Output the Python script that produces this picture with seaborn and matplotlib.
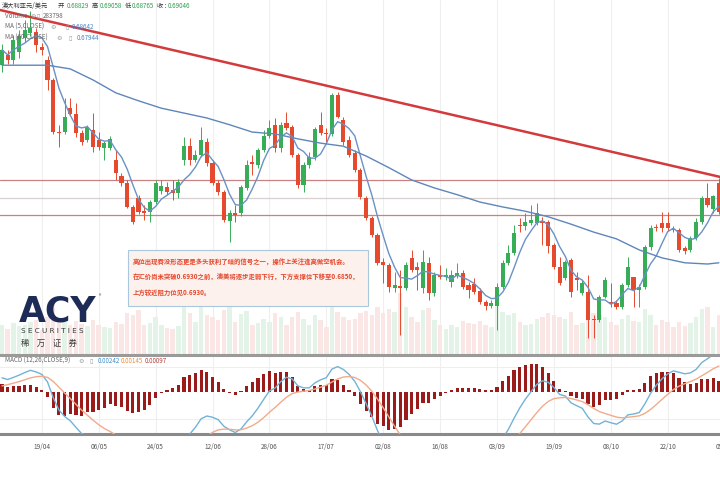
import numpy as np
import pandas as pd
import seaborn as sns
import matplotlib
matplotlib.use("Agg")
from matplotlib import pyplot as plt
from matplotlib import transforms
from matplotlib.patches import Rectangle

# AUD/USD daily candles
opens = [
    0.7117, 0.7134, 0.7126, 0.7139, 0.7161, 0.7170, 0.7171, 0.7147, 0.7126, 0.7093,
    0.7008, 0.7008, 0.7047, 0.7037, 0.7006, 0.6995, 0.7011, 0.6995, 0.6982, 0.6982,
    0.6963, 0.6936, 0.6925, 0.6886, 0.6901, 0.6879, 0.6878, 0.6894, 0.6912, 0.6919,
    0.6914, 0.6909, 0.6963, 0.6985, 0.6963, 0.6971, 0.6992, 0.6958, 0.6925, 0.6910,
    0.6863, 0.6876, 0.6876, 0.6917, 0.6959, 0.6954, 0.6979, 0.7002, 0.7020, 0.6982,
    0.7023, 0.7016, 0.6971, 0.6922, 0.6954, 0.6967, 0.7020, 0.7006, 0.7005, 0.7068,
    0.7028, 0.6995, 0.6974, 0.6946, 0.6901, 0.6868, 0.6840, 0.6796, 0.6791, 0.6754,
    0.6757, 0.6754, 0.6803, 0.6788, 0.6754, 0.6795, 0.6746, 0.6775, 0.6772, 0.6764,
    0.6773, 0.6778, 0.6759, 0.6760, 0.6749, 0.6731, 0.6725, 0.6725, 0.6755, 0.6795,
    0.6811, 0.6857, 0.6855, 0.6860, 0.6860, 0.6863, 0.6861, 0.6824, 0.6788, 0.6770,
    0.6800, 0.6770, 0.6746, 0.6747, 0.6703, 0.6702, 0.6739, 0.6731, 0.6729, 0.6723,
    0.6759, 0.6772, 0.6751, 0.6755, 0.6821, 0.6853, 0.6860, 0.6860, 0.6850, 0.6848,
    0.6819, 0.6816, 0.6835, 0.6861, 0.6901, 0.68829, 0.6925,
]
highs = [
    0.7152, 0.7142, 0.7166, 0.7174, 0.7191, 0.7205, 0.7178, 0.7153, 0.7132, 0.7096,
    0.7020, 0.7064, 0.7064, 0.7055, 0.7011, 0.7020, 0.7039, 0.7008, 0.6993, 0.7002,
    0.6979, 0.6941, 0.6930, 0.6889, 0.6906, 0.6889, 0.6897, 0.6930, 0.6930, 0.6927,
    0.6930, 0.6931, 0.7000, 0.6998, 0.6979, 0.7016, 0.6998, 0.6963, 0.6930, 0.6914,
    0.6881, 0.6889, 0.6922, 0.6963, 0.6971, 0.6982, 0.7011, 0.7028, 0.7031, 0.7024,
    0.7041, 0.7020, 0.6974, 0.6959, 0.6976, 0.7016, 0.7041, 0.7015, 0.7072, 0.7073,
    0.7033, 0.7002, 0.6979, 0.6949, 0.6904, 0.6871, 0.6844, 0.6803, 0.6795, 0.6780,
    0.6783, 0.6796, 0.6816, 0.6796, 0.6816, 0.6804, 0.6780, 0.6791, 0.6786, 0.6783,
    0.6795, 0.6783, 0.6764, 0.6770, 0.6754, 0.6734, 0.6734, 0.6762, 0.6800, 0.6824,
    0.6857, 0.6868, 0.6876, 0.6889, 0.6892, 0.6870, 0.6865, 0.6827, 0.6804, 0.6800,
    0.6803, 0.6780, 0.6767, 0.6775, 0.6710, 0.6742, 0.6772, 0.6762, 0.6734, 0.6762,
    0.6804, 0.6772, 0.6760, 0.6824, 0.6857, 0.6858, 0.6878, 0.6878, 0.6855, 0.6852,
    0.6822, 0.6839, 0.6868, 0.6904, 0.6925, 0.69058, 0.6933,
]
lows = [
    0.7106, 0.7119, 0.7119, 0.7129, 0.7155, 0.7165, 0.7139, 0.7134, 0.7077, 0.7005,
    0.6984, 0.7005, 0.7036, 0.7000, 0.6987, 0.6992, 0.6976, 0.6979, 0.6963, 0.6979,
    0.6930, 0.6920, 0.6884, 0.6858, 0.6875, 0.6865, 0.6861, 0.6891, 0.6907, 0.6906,
    0.6897, 0.6901, 0.6954, 0.6954, 0.6959, 0.6967, 0.6953, 0.6922, 0.6906, 0.6861,
    0.6829, 0.6861, 0.6871, 0.6914, 0.6938, 0.6949, 0.6976, 0.6998, 0.6976, 0.6976,
    0.7011, 0.6967, 0.6917, 0.6910, 0.6949, 0.6963, 0.7003, 0.6990, 0.7002, 0.7031,
    0.6987, 0.6967, 0.6943, 0.6899, 0.6865, 0.6837, 0.6791, 0.6762, 0.6747, 0.6747,
    0.6677, 0.6751, 0.6780, 0.6751, 0.6746, 0.6734, 0.6741, 0.6768, 0.6767, 0.6755,
    0.6770, 0.6752, 0.6738, 0.6744, 0.6728, 0.6718, 0.6721, 0.6685, 0.6752, 0.6791,
    0.6808, 0.6845, 0.6848, 0.6857, 0.6857, 0.6824, 0.6811, 0.6785, 0.6759, 0.6767,
    0.6739, 0.6751, 0.6742, 0.6672, 0.6672, 0.6698, 0.6738, 0.6723, 0.6720, 0.6720,
    0.6755, 0.6723, 0.6723, 0.6752, 0.6816, 0.6847, 0.6845, 0.6847, 0.6845, 0.6812,
    0.6809, 0.6812, 0.6832, 0.6858, 0.6886, 0.68765, 0.6875,
]
closes = [
    0.7142, 0.7126, 0.7158, 0.7165, 0.7174, 0.7178, 0.7150, 0.7142, 0.7093, 0.7008,
    0.7006, 0.7033, 0.7037, 0.7006, 0.6992, 0.7016, 0.6984, 0.6984, 0.6990, 0.6997,
    0.6941, 0.6925, 0.6886, 0.6861, 0.6878, 0.6876, 0.6894, 0.6925, 0.6920, 0.6910,
    0.6909, 0.6927, 0.6985, 0.6963, 0.6971, 0.6995, 0.6958, 0.6925, 0.6910, 0.6865,
    0.6876, 0.6873, 0.6919, 0.6954, 0.6956, 0.6979, 0.7002, 0.7015, 0.6982, 0.7020,
    0.7015, 0.6971, 0.6922, 0.6954, 0.6967, 0.7013, 0.7006, 0.7005, 0.7068, 0.7033,
    0.6992, 0.6971, 0.6946, 0.6902, 0.6868, 0.6840, 0.6795, 0.6791, 0.6755, 0.6759,
    0.6754, 0.6791, 0.6783, 0.6783, 0.6796, 0.6746, 0.6775, 0.6772, 0.6775, 0.6775,
    0.6778, 0.6755, 0.6751, 0.6747, 0.6731, 0.6725, 0.6729, 0.6755, 0.6795, 0.6811,
    0.6844, 0.6855, 0.6861, 0.6865, 0.6876, 0.6860, 0.6822, 0.6788, 0.6762, 0.6796,
    0.6747, 0.6767, 0.6762, 0.6702, 0.6702, 0.6739, 0.6767, 0.6728, 0.6723, 0.6759,
    0.6788, 0.6751, 0.6755, 0.6821, 0.6852, 0.6852, 0.6852, 0.6852, 0.6848, 0.6816,
    0.6814, 0.6835, 0.6861, 0.6901, 0.6889, 0.69046, 0.6878,
]
volumes = [
    300000, 262000, 318000, 291000, 305000, 334000, 352000, 248000,
    381000, 522000, 364000, 331000, 298000, 342000, 309000, 287000, 352000, 301000, 276000, 268000,
    335000, 312000, 418000, 404000, 452000, 301000, 322000, 383000, 297000, 271000, 258000, 293000,
    561000, 423000, 332000, 478000, 401000, 383000, 349000, 451000, 518000, 331000, 412000, 438000, 302000, 318000,
    362000, 333000, 421000, 379000, 302000, 384000, 432000, 361000, 298000, 402000, 351000, 279000,
    523000, 428000, 381000, 352000, 364000, 418000, 442000, 397000, 482000, 421000, 463000, 428000,
    618000, 481000, 379000, 332000, 448000, 472000, 351000, 302000, 259000, 297000, 281000, 338000,
    322000, 311000, 342000, 298000, 283000, 502000, 431000, 398000, 421000, 333000, 302000, 309000,
    362000, 381000, 419000, 402000, 378000, 361000, 433000, 298000, 322000, 558000, 421000, 398000,
    379000, 331000, 302000, 358000, 401000, 342000, 329000, 462000, 398000, 301000, 352000, 328000,
    281000, 332000, 291000, 318000, 383000, 458000, 479000, 283798, 402000,
]

# slow moving average as drawn on the chart (sampled every 4 bars)
ma60_bars = [0, 4, 8, 12, 16, 20, 24, 28, 32, 36, 40, 44, 48, 52, 56, 60,
             64, 68, 72, 76, 80, 84, 88, 92, 96, 100, 104, 108, 112, 116, 120, 124, 126]
ma60_values = [0.7117, 0.7117, 0.7117, 0.7111, 0.7093, 0.7072, 0.7059, 0.7047, 0.7039,
               0.7031, 0.7020, 0.7008, 0.7005, 0.6997, 0.6990, 0.6985, 0.6969, 0.6950,
               0.6930, 0.6917, 0.6906, 0.6894, 0.6886, 0.6879, 0.6870, 0.6858, 0.6845,
               0.6834, 0.6816, 0.6803, 0.6795, 0.6793, 0.6795]

# EMA state at the first visible bar (fast, slow, signal)
macd_seed = [0.7130, 0.7120, 0.0003]

tick_bars = [7, 17, 27, 37, 47, 57, 67, 77, 87, 97, 107, 117, 127]
tick_labels = ["19/04", "06/05", "24/05", "12/06", "28/06", "17/07", "02/08",
               "16/08", "03/09", "19/09", "08/10", "22/10", "05/11"]

trend_bars = [-0.35, 126.2]
trend_prices = [0.7207, 0.6935]
level_prices = [0.6930, 0.6901, 0.6873]
level_colors = ["#c98282", "#d9d0d0", "#c98282"]

note_lines = [
    "高位出现吞没形态更是多头获利了结的信号之一，操作上关注逢高做空机会。",
    "在汇价尚未突破0.6930之前，澳美将逐步走弱下行，下方支撑位下移至0.6850，",
    "上方较近阻力位见0.6930。",
]

W, H = 720, 479
RED, GREEN = "#e64a2e", "#37ad58"
MA_BLUE = "#6a92c4"


def fx(x):
    return x / W


def fy(y):
    return 1 - y / H


def ema(seed, values, span):
    alpha = 2.0 / (span + 1)
    out, prev = [], seed
    for v in values:
        prev = prev + alpha * (v - prev)
        out.append(prev)
    return np.array(out)


sns.set_theme(style="white")
plt.rcParams["font.family"] = ["Noto Sans CJK SC", "DejaVu Sans"]
plt.rcParams["axes.unicode_minus"] = False

df = pd.DataFrame({"open": opens, "high": highs, "low": lows, "close": closes, "volume": volumes})
df["bar"] = np.arange(len(df))
df["ma5"] = df["close"].rolling(5, min_periods=1).mean()
df["dif"] = ema(macd_seed[0], df["close"], 12) - ema(macd_seed[1], df["close"], 26)
df["dea"] = ema(macd_seed[2], df["dif"], 9)
df["hist"] = df["dif"] - df["dea"]
up = (df["close"] >= df["open"]).to_numpy()

fig = plt.figure(figsize=(7.2, 4.79), dpi=100)
ax = fig.add_axes([0, fy(355), 1, 355 / H])
axv = ax.twinx()
ax.set_zorder(axv.get_zorder() + 1)
ax.patch.set_visible(False)
axm = fig.add_axes([0, fy(434), 1, (434 - 356) / H])

xlim = (trend_bars[0], trend_bars[1])
for a in (ax, axv, axm):
    a.set_xlim(*xlim)

# volume overlay + faint verticals
axv.bar(df["bar"], df["volume"], width=0.78, color=np.where(up, "#e3f3e7", "#fbe6e6"), linewidth=0)
for b in tick_bars:
    axv.axvline(b, color="#efefef", lw=0.8, zorder=0)
    axm.axvline(b, color="#efefef", lw=0.8, zorder=0)
axv.set_ylim(0, 3.55e6)
axv.set_axis_off()

# candles
colors = np.where(up, GREEN, RED)
ax.vlines(df["bar"], df["low"], df["high"], colors=colors, lw=0.7, zorder=3)
body_low = np.minimum(df["open"], df["close"])
body_h = np.maximum((df["close"] - df["open"]).abs(), 0.00008)
ax.bar(df["bar"], body_h, bottom=body_low, width=0.72, color=colors, linewidth=0, zorder=4)

for p, c in zip(level_prices, level_colors):
    ax.axhline(p, color=c, lw=0.9, zorder=2)

sns.lineplot(x=df["bar"], y=df["ma5"], ax=ax, color=MA_BLUE, lw=1.0, zorder=5)
sns.lineplot(x=ma60_bars, y=ma60_values, ax=ax, color="#5f86ba", lw=1.0, zorder=5)
ax.plot(trend_bars, trend_prices, color="#d23a3c", lw=1.8, zorder=6)

ax.set_ylim(0.66447, 0.72233)
ax.set_xticks([])
ax.set_yticks([])
ax.set_xlabel("")
ax.set_ylabel("")
for s in ("top", "left", "right"):
    ax.spines[s].set_visible(False)
ax.spines["bottom"].set_color("#9a9a9a")
ax.spines["bottom"].set_linewidth(2.2)

# MACD panel
for g in (0.0018, -0.0019):
    axm.axhline(g, color="#eeeeee", lw=0.8, zorder=0)
axm.bar(df["bar"], df["hist"], width=0.55, color="#9b1a1a", linewidth=0, zorder=3)
sns.lineplot(x=df["bar"], y=df["dif"], ax=axm, color="#72b3d6", lw=1.0, zorder=4)
sns.lineplot(x=df["bar"], y=df["dea"], ax=axm, color="#f2ab8a", lw=1.0, zorder=4)
axm.set_ylim(-0.00297, 0.00257)
axm.set_xticks([])
axm.set_yticks([])
axm.set_xlabel("")
axm.set_ylabel("")
for s in ("top", "left", "right"):
    axm.spines[s].set_visible(False)
axm.spines["bottom"].set_color("#8a8a8a")
axm.spines["bottom"].set_linewidth(2.2)

trans = transforms.blended_transform_factory(axm.transData, axm.transAxes)
for b, lab in zip(tick_bars, tick_labels):
    axm.text(b, -0.167, lab, transform=trans, ha="center", va="center",
             fontsize=4.6, color="#555555", clip_on=False)

# header texts
FS = 4.5
DARK, GRAY, VAL_GREEN, VAL_BLUE = "#333333", "#666666", "#2f9e50", "#4a86c8"
ICON = "#9a9a9a"
header = [
    (2, 6, "澳大利亚元/美元", DARK), (58, 6, "开", DARK), (67, 6, "0.68829", VAL_GREEN),
    (92, 6, "高", DARK), (100, 6, "0.69058", VAL_GREEN), (125, 6, "低", DARK),
    (132, 6, "0.68765", VAL_GREEN), (157, 6, "收 :", DARK), (168, 6, "0.69046", VAL_GREEN),
    (5, 16, "Volume", GRAY), (30, 16, "⚙", ICON), (36, 16, "▯", ICON), (43, 16, "283798", GRAY),
    (5, 27, "MA (5,CLOSE)", GRAY), (50, 27, "⚙", ICON), (65, 27, "▯", ICON), (72, 27, "0.68642", VAL_BLUE),
    (5, 38, "MA (60,CLOSE)", GRAY), (56, 38, "⚙", ICON), (68, 38, "▯", ICON), (77, 38, "0.67944", VAL_BLUE),
    (5, 361, "MACD (12,26,CLOSE,9)", GRAY), (78, 361, "⚙", ICON), (89, 361, "▯", ICON),
    (98, 361, "0.00242", "#3d8fd1"), (121, 361, "0.00145", "#f08c3a"), (145, 361, "0.00097", "#b0413e"),
]
for x, y, s, c in header:
    fig.text(fx(x), fy(y), s, fontsize=FS, color=c, ha="left", va="center", zorder=10)

# analyst note box
fig.add_artist(Rectangle((fx(128), fy(306)), 240 / W, 56 / H, transform=fig.transFigure,
                         facecolor="#fdf1ee", edgecolor="#a9c7dd", lw=0.8, zorder=8))
for k, line in enumerate(note_lines):
    fig.text(fx(133), fy(262 + 15.5 * k), line, fontsize=4.6, color="#e4472b",
             fontweight="bold", ha="left", va="center", zorder=9)

# broker logo
fig.text(fx(19), fy(311), "ACY", fontsize=25, fontweight="heavy", color="#1d2b57",
         family="DejaVu Sans", ha="left", va="center", zorder=9)
fig.text(fx(99), fy(297), "®", fontsize=3.5, color="#1d2b57", ha="left", va="center", zorder=9)
fig.text(fx(21), fy(331), "S E C U R I T I E S", fontsize=5.2, color="#3a3a3a",
         family="DejaVu Sans", ha="left", va="center", zorder=9)
fig.text(fx(21), fy(343), "稀    万    证    券", fontsize=6, color="#3a3a3a",
         ha="left", va="center", zorder=9)

fig.savefig("out.png", dpi=100)
plt.close(fig)
